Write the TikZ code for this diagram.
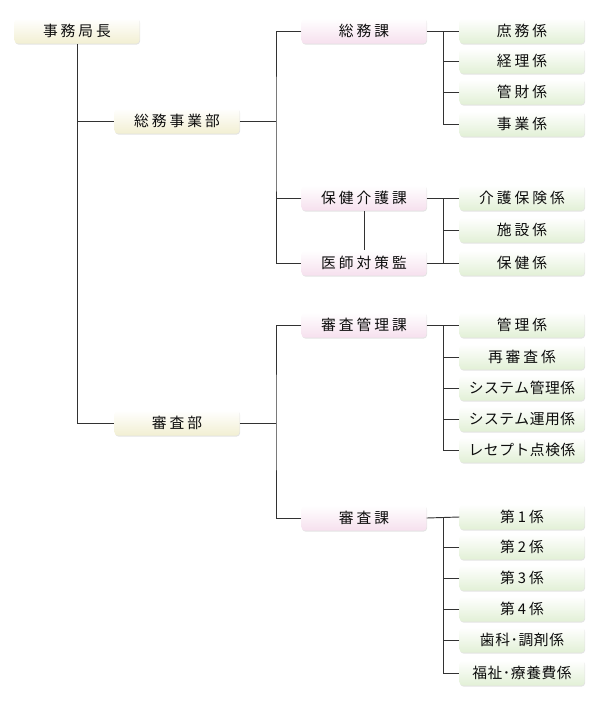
\documentclass[tikz,border=0pt]{standalone}
\usepackage{fontspec}
\usepackage{tikz}
\usetikzlibrary{shadows, calc}
\usepackage{xcolor}
\newfontfamily\jp[LetterSpace=20]{Noto Sans CJK JP}
\newfontfamily\jpt[LetterSpace=4]{Noto Sans CJK JP}
\definecolor{creamb}{RGB}{242,239,210}
\definecolor{pinkb}{RGB}{246,224,238}
\definecolor{greenb}{RGB}{226,240,214}
\definecolor{linec}{RGB}{50,50,50}

\begin{document}
\begin{tikzpicture}[x=0.03cm, y=-0.03cm,
  box/.style={rounded corners=3pt, minimum width=3.75cm, minimum height=0.76cm,
    inner sep=0pt, font=\jp\fontsize{12.6}{12.6}\selectfont, text=black!95,
    drop shadow={opacity=0.22, shadow xshift=0.5pt, shadow yshift=-0.8pt}},
  bubox/.style={box, top color=white, bottom color=creamb},
  kabox/.style={box, top color=white, bottom color=pinkb},
  kkbox/.style={box, top color=white, bottom color=greenb},
  tight/.style={font=\jpt\fontsize{12.6}{12.6}\selectfont},
  conn/.style={draw=linec, line width=0.8pt}
]
\useasboundingbox (0,0) rectangle (600,714);

% 局・部
\node[bubox] (kyoku)  at (77,31)  {事務局長};
\node[bubox] (soumu)  at (177,121) {総務事業部};
\node[bubox] (shinsa) at (177,423) {審査部};

% 課
\node[kabox] (soumuka)  at (364,31)  {総務課};
\node[kabox] (hokenka)  at (364,198) {保健介護課};
\node[kabox] (ishi)     at (364,263) {医師対策監};
\node[kabox] (kanrika)  at (364,325) {審査管理課};
\node[kabox] (shinsaka) at (364,518) {審査課};

% 係
\node[kkbox] (shomu)   at (522,31)  {庶務係};
\node[kkbox] (keiri)   at (522,61)  {経理係};
\node[kkbox] (kanzai)  at (522,92)  {管財係};
\node[kkbox] (jigyo)   at (522,124) {事業係};
\node[kkbox] (kaigo)   at (522,198) {介護保険係};
\node[kkbox] (shisetsu) at (522,230) {施設係};
\node[kkbox] (hokenkk) at (522,263) {保健係};
\node[kkbox] (kanri)   at (522,325) {管理係};
\node[kkbox] (saishin) at (522,357) {再審査係};
\node[kkbox, tight] (syskan) at (522,388) {システム管理係};
\node[kkbox, tight] (sysun)  at (522,419) {システム運用係};
\node[kkbox, tight] (rese)   at (522,450) {レセプト点検係};
\node[kkbox] (dai1) at (522,517) {第1係};
\node[kkbox] (dai2) at (522,547) {第2係};
\node[kkbox] (dai3) at (522,578) {第3係};
\node[kkbox] (dai4) at (522,609) {第4係};
\node[kkbox, tight] (shika) at (522,640) {歯科･調剤係};
\node[kkbox, tight] (fukushi) at (522,673) {福祉･療養費係};

\coordinate (ta) at (276,121);
\coordinate (tb) at (276,423);
\coordinate (bx) at (443,0);

% 局から部
\draw[conn] (kyoku.south) |- (shinsa.west);
\draw[conn] (kyoku.south |- soumu) -- (soumu.west);

% 部から課
\draw[conn] (soumu.east) -- (ta);
\draw[conn] (soumuka.west) -| (ta) |- (ishi.west);
\draw[conn] (hokenka.west) -- (hokenka.west -| ta);
\draw[conn] (hokenka.south) -- (ishi.north);
\draw[conn] (shinsa.east) -- (tb);
\draw[conn] (kanrika.west) -| (tb) |- (shinsaka.west);

% 課から係
\draw[conn] (soumuka.east) -- (shomu.west);
\draw[conn] (shomu.west -| bx) |- (jigyo.west);
\foreach \k in {keiri, kanzai}
  \draw[conn] (\k.west) -- (\k.west -| bx);

\draw[conn] (hokenka.east) -- (kaigo.west);
\draw[conn] (ishi.east) -- (hokenkk.west);
\draw[conn] (kaigo.west -| bx) -- (hokenkk.west -| bx);
\draw[conn] (shisetsu.west) -- (shisetsu.west -| bx);

\draw[conn] (kanrika.east) -- (kanri.west);
\draw[conn] (kanri.west -| bx) |- (rese.west);
\foreach \k in {saishin, syskan, sysun}
  \draw[conn] (\k.west) -- (\k.west -| bx);

\draw[conn] (shinsaka.east) -- (dai1.west);
\draw[conn] (dai1.west -| bx) |- (fukushi.west);
\foreach \k in {dai2, dai3, dai4, shika}
  \draw[conn] (\k.west) -- (\k.west -| bx);
\end{tikzpicture}
\end{document}
